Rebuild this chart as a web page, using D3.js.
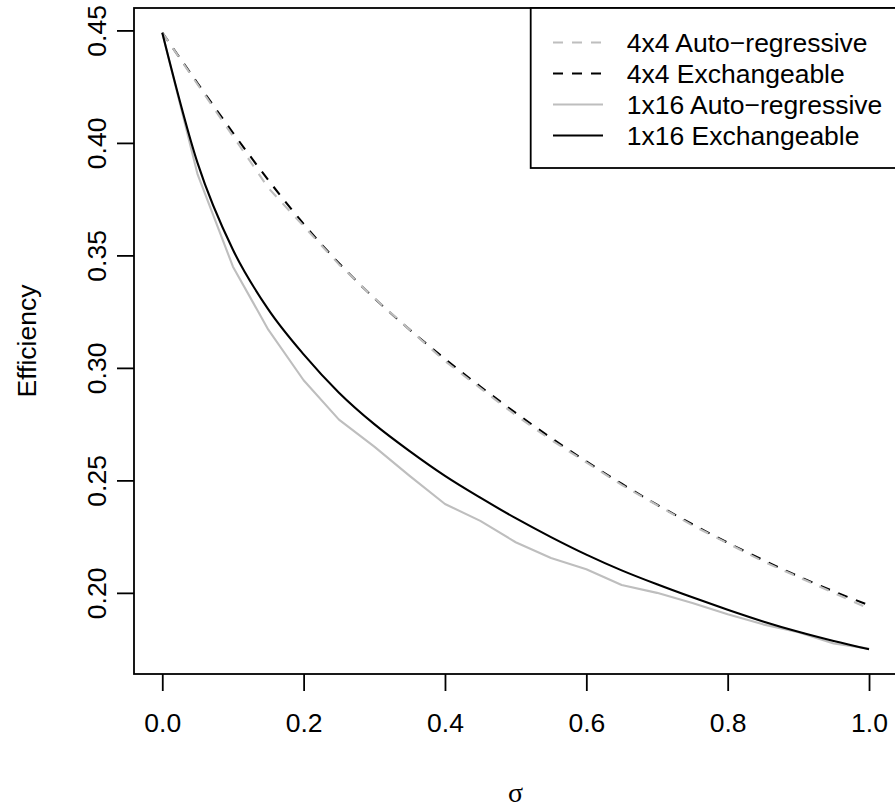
<!DOCTYPE html>
<html>
<head>
<meta charset="utf-8">
<script src="https://cdn.jsdelivr.net/npm/d3@7"></script>
<style>
  html, body { margin: 0; padding: 0; background: #ffffff; }
  svg { display: block; font-family: "Liberation Sans", Arial, Helvetica, sans-serif; }
</style>
</head>
<body>
<svg id="chart" width="895" height="810"></svg>
<script>
// sigma grid
const sigma = [0.00, 0.05, 0.10, 0.15, 0.20, 0.25, 0.30, 0.35, 0.40, 0.45, 0.50,
               0.55, 0.60, 0.65, 0.70, 0.75, 0.80, 0.85, 0.90, 0.95, 1.00];

// efficiency for each design / correlation structure
const ar4x4 = [0.449, 0.426, 0.403, 0.380, 0.363, 0.346, 0.331, 0.317, 0.303, 0.291, 0.279,
               0.268, 0.258, 0.248, 0.239, 0.230, 0.222, 0.214, 0.207, 0.200, 0.193];
const ex4x4 = [0.449, 0.4265, 0.4045, 0.3835, 0.3640, 0.3465, 0.3310, 0.3170, 0.3040, 0.2917, 0.2800,
               0.2689, 0.2584, 0.2485, 0.2392, 0.2305, 0.2223, 0.2146, 0.2074, 0.2007, 0.1945];
const ar1x16 = [0.449, 0.386, 0.345, 0.317, 0.2945, 0.277, 0.265, 0.252, 0.2395, 0.232, 0.2225,
                0.2155, 0.2105, 0.2035, 0.2000, 0.1955, 0.1905, 0.186, 0.1825, 0.1775, 0.1752];
const ex1x16 = [0.449, 0.391, 0.3525, 0.326, 0.306, 0.289, 0.275, 0.263, 0.252, 0.2423, 0.2332,
                0.2248, 0.2170, 0.2100, 0.2038, 0.1980, 0.1925, 0.1873, 0.1827, 0.1786, 0.1749];

const xTicks = [0.0, 0.2, 0.4, 0.6, 0.8, 1.0];
const yTicks = [0.20, 0.25, 0.30, 0.35, 0.40, 0.45];

const seriesNames = ["4x4 Auto\u2212regressive", "4x4 Exchangeable",
                     "1x16 Auto\u2212regressive", "1x16 Exchangeable"];

const series = [
  { name: seriesNames[1], values: ex4x4,  color: "#000000", dash: "10,9", smooth: true },
  { name: seriesNames[0], values: ar4x4,  color: "#bebebe", dash: "10,9", smooth: false },
  { name: seriesNames[2], values: ar1x16, color: "#bebebe", dash: null,   smooth: false },
  { name: seriesNames[3], values: ex1x16, color: "#000000", dash: null,   smooth: true }
];
const legendItems = [
  { name: seriesNames[0], color: "#bebebe", dash: "10,9" },
  { name: seriesNames[1], color: "#000000", dash: "10,9" },
  { name: seriesNames[2], color: "#bebebe", dash: null },
  { name: seriesNames[3], color: "#000000", dash: null }
];

const svg = d3.select("#chart");
const FS = 26.5;
const box = { left: 134, right: 897.3, top: 8, bottom: 674 };

// axis ranges padded by 4% of the data range on each side
function padded(ext) {
  const r = ext[1] - ext[0];
  return [ext[0] - 0.04 * r, ext[1] + 0.04 * r];
}
const allY = [].concat(ar4x4, ex4x4, ar1x16, ex1x16);
const x = d3.scaleLinear().domain(padded(d3.extent(sigma))).range([box.left, box.right]);
const y = d3.scaleLinear().domain(padded(d3.extent(allY))).range([box.bottom, box.top]);

// curves
const lineLinear = d3.line().x((d, i) => x(sigma[i])).y(d => y(d));
const lineSmooth = d3.line().x((d, i) => x(sigma[i])).y(d => y(d)).curve(d3.curveMonotoneX);

svg.append("g").selectAll("path")
  .data(series)
  .join("path")
  .attr("d", s => (s.smooth ? lineSmooth : lineLinear)(s.values))
  .attr("fill", "none")
  .attr("stroke", s => s.color)
  .attr("stroke-width", 2.1)
  .attr("stroke-dasharray", s => s.dash)
  .attr("stroke-linejoin", "round");

// x axis
const xAxis = svg.append("g")
  .attr("transform", `translate(0,${box.bottom})`)
  .call(d3.axisBottom(x).tickValues(xTicks).tickFormat(d3.format(".1f")).tickSize(17).tickSizeOuter(0));
xAxis.select(".domain").remove();
xAxis.selectAll(".tick line").attr("stroke", "#000").attr("stroke-width", 1.8);
xAxis.selectAll(".tick text")
  .attr("y", 58).attr("dy", null)
  .attr("font-size", FS).attr("font-family", "Liberation Sans, Arial, sans-serif")
  .attr("fill", "#000");

// y axis
const yAxis = svg.append("g")
  .attr("transform", `translate(${box.left},0)`)
  .call(d3.axisLeft(y).tickValues(yTicks).tickFormat(d3.format(".2f")).tickSize(17).tickSizeOuter(0));
yAxis.select(".domain").remove();
yAxis.selectAll(".tick line").attr("stroke", "#000").attr("stroke-width", 1.8);
yAxis.selectAll(".tick text")
  .attr("x", null).attr("dy", null)
  .attr("transform", "translate(-28,0) rotate(-90)")
  .attr("text-anchor", "middle")
  .attr("font-size", FS).attr("font-family", "Liberation Sans, Arial, sans-serif")
  .attr("fill", "#000");

// plot frame
svg.append("rect")
  .attr("x", box.left).attr("y", box.top)
  .attr("width", box.right - box.left).attr("height", box.bottom - box.top)
  .attr("fill", "none").attr("stroke", "#000").attr("stroke-width", 1.8);

// axis titles
svg.append("text")
  .attr("x", (box.left + box.right) / 2).attr("y", 802)
  .attr("text-anchor", "middle")
  .attr("font-family", "Liberation Serif, DejaVu Serif, serif")
  .attr("font-size", 28)
  .text("\u03c3");
svg.append("text")
  .attr("transform", `translate(36,${(box.top + box.bottom) / 2}) rotate(-90)`)
  .attr("text-anchor", "middle")
  .attr("font-size", FS)
  .text("Efficiency");

// legend
const lg = svg.append("g");
lg.append("rect")
  .attr("x", 530.7).attr("y", box.top)
  .attr("width", box.right - 530.7).attr("height", 168 - box.top)
  .attr("fill", "#fff").attr("stroke", "#000").attr("stroke-width", 1.8);
legendItems.forEach((it, i) => {
  const ry = 42.5 + 31 * i;
  lg.append("line")
    .attr("x1", 553).attr("x2", 603).attr("y1", ry).attr("y2", ry)
    .attr("stroke", it.color).attr("stroke-width", 2.1)
    .attr("stroke-dasharray", it.dash);
  lg.append("text")
    .attr("x", 626.7).attr("y", ry).attr("dy", "0.36em")
    .attr("font-size", FS)
    .text(it.name);
});
</script>
</body>
</html>
